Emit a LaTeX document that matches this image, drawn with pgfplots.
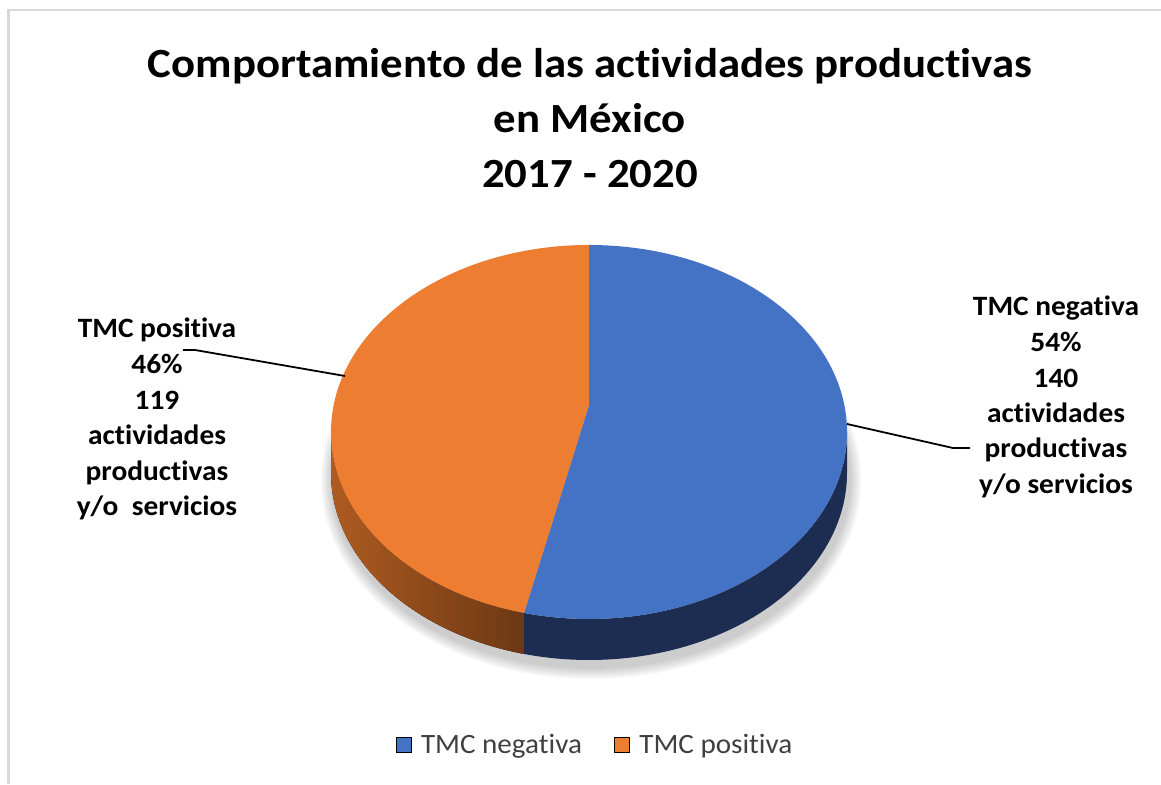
\documentclass[border=0pt]{standalone}
\usepackage{pgfplots}
\pgfplotsset{compat=1.18}
\usepackage{fontspec}
\setmainfont[Ligatures={NoCommon}]{Carlito}
\newfontfamily\titlefont[FakeStretch=1.08, Ligatures={NoCommon}]{Carlito}
\newfontfamily\labelfont[FakeStretch=1.05, Ligatures={NoCommon}]{Carlito}
\newfontfamily\legfont[FakeStretch=1.04, Ligatures={NoCommon}]{Carlito}
\definecolor{topblue}{HTML}{4472C4}
\definecolor{toporange}{HTML}{ED7D31}
\definecolor{sideblue}{HTML}{1C2D51}
\definecolor{sideorangeL}{HTML}{AE5B20}
\definecolor{sideorangeR}{HTML}{6C3815}
\definecolor{bordergray}{HTML}{D9D9D9}
\definecolor{legtext}{HTML}{404040}
\begin{document}
\begin{tikzpicture}
\pgfmathsetmacro{\valneg}{140}
\pgfmathsetmacro{\valpos}{119}
\pgfmathsetmacro{\shareneg}{\valneg/(\valneg+\valpos)}
\pgfmathsetmacro{\aend}{90-360*\shareneg}
\pgfmathsetmacro{\aendp}{\aend+360}
\pgfmathsetmacro{\pxa}{589+258*cos(\aend)}
\pgfmathsetmacro{\pya}{352+187*sin(\aend)}
\begin{axis}[scale only axis, width=1161pt, height=784pt,
  xmin=0, xmax=1161, ymin=0, ymax=784, hide axis, clip=false,
  legend columns=2,
  legend style={at={(axis cs:595,39)}, anchor=center, draw=none, fill=none,
    font=\legfont\fontsize{28}{32}\selectfont\color{legtext},
    /tikz/every odd column/.append style={column sep=8pt},
    /tikz/every even column/.append style={column sep=30pt}},
  legend image code/.code={\fill[#1] (0pt,-7.5pt) rectangle (15pt,7.5pt);}]
\addlegendimage{fill=topblue}
\addlegendentry{TMC negativa}
\addlegendimage{fill=toporange}
\addlegendentry{TMC positiva}
% border
\draw[bordergray, line width=2.5pt] (axis cs:8.5,0) -- (axis cs:8.5,774) -- (axis cs:1161,774);
% title
\begin{scope}[every node/.style={anchor=base, font=\titlefont\bfseries\fontsize{41.5}{48}\selectfont}]
\node at (axis cs:590,706) {Comportamiento de las actividades productivas};
\node at (axis cs:590,651) {en México};
\node at (axis cs:590,596) {2017 - 2020};
\end{scope}
% shadow
\pgfplotsinvokeforeach{2,4,6,8,10,12}{
  \fill[black, opacity=0.035] (axis cs:591,304) ellipse[x radius=258+#1, y radius=187+#1];
}
% sides
\fill[sideblue] (axis cs:\pxa,\pya) arc[start angle=\aend, end angle=0, x radius=258pt, y radius=187pt]
  -- ++(0pt,-41pt) arc[start angle=0, end angle=\aend, x radius=258pt, y radius=187pt] -- cycle;
\fill[left color=sideorangeL, right color=sideorangeR] (axis cs:331,352) arc[start angle=180, end angle=\aendp, x radius=258pt, y radius=187pt]
  -- ++(0pt,-41pt) arc[start angle=\aendp, end angle=180, x radius=258pt, y radius=187pt] -- cycle;
% tops
\fill[topblue] (axis cs:589,379) -- (axis cs:589,539) arc[start angle=90, end angle=\aend, x radius=258pt, y radius=187pt] -- cycle;
\fill[toporange] (axis cs:589,379) -- (axis cs:589,539) arc[start angle=90, end angle=\aendp, x radius=258pt, y radius=187pt] -- cycle;
% leader lines
\draw[black, line width=1.8pt] (axis cs:847,360) -- (axis cs:953,336) -- (axis cs:970,336);
\draw[black, line width=1.8pt] (axis cs:183,434) -- (axis cs:195,434) -- (axis cs:345,408);
% labels
\begin{scope}[every node/.style={anchor=base, font=\labelfont\bfseries\fontsize{28}{35}\selectfont}]
\node at (axis cs:1056,468) {TMC negativa};
\node at (axis cs:1056,432) {54\%};
\node at (axis cs:1056,396) {140};
\node at (axis cs:1056,361) {actividades};
\node at (axis cs:1056,326) {productivas};
\node at (axis cs:1056,290) {y/o servicios};
\node at (axis cs:157,446) {TMC positiva};
\node at (axis cs:157,410) {46\%};
\node at (axis cs:157,374) {119};
\node at (axis cs:157,339) {actividades};
\node at (axis cs:157,303) {productivas};
\node at (axis cs:157,268) {y/o\ \ servicios};
\end{scope}
\end{axis}
\pgfresetboundingbox
\path[use as bounding box] (0,0) rectangle (1161pt,784pt);
\end{tikzpicture}
\end{document}
